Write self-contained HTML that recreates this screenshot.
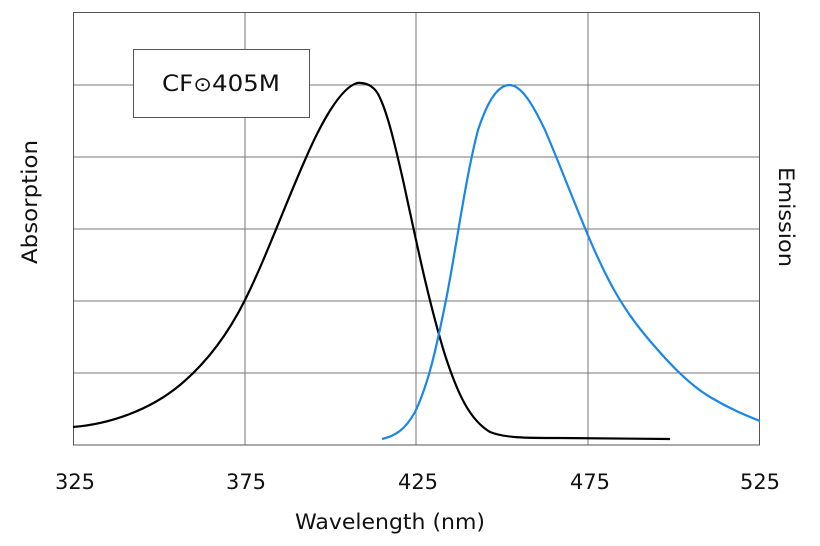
<!DOCTYPE html>
<html><head><meta charset="utf-8"><style>
html,body{margin:0;padding:0;background:#fff;}
svg{display:block;font-family:"DejaVu Sans","Liberation Sans",sans-serif;}
</style></head><body>
<svg width="820" height="546" viewBox="0 0 820 546">
<g stroke="#777" stroke-width="1" fill="none">
<line x1="73" y1="85" x2="760" y2="85"/>
<line x1="73" y1="157" x2="760" y2="157"/>
<line x1="73" y1="229" x2="760" y2="229"/>
<line x1="73" y1="301" x2="760" y2="301"/>
<line x1="73" y1="373" x2="760" y2="373"/>
<line x1="245" y1="12" x2="245" y2="445"/>
<line x1="416" y1="12" x2="416" y2="445"/>
<line x1="588" y1="12" x2="588" y2="445"/>
<rect x="73.5" y="12.5" width="686" height="432.5" stroke="#555"/>
</g>
<rect x="133.5" y="49.5" width="176" height="68" fill="#fff" stroke="#555"/>
<text x="221" y="91" font-size="22" text-anchor="middle" fill="#111" textLength="118" lengthAdjust="spacingAndGlyphs">CF<tspan font-size="20">⊙</tspan>405M</text>
<path d="M73,427 C110,424 150,410 180,385 C210,360 230,330 245,300 C265,260 285,205 305,160 C320,125 340,88 357,83 C368,82 376,88 380,98 C388,115 395,145 403,180 C415,235 428,300 445,355 C458,395 470,420 490,432 C505,438 525,438 560,438 L670,439" fill="none" stroke="#000" stroke-width="2.2"/>
<path d="M382,439 C395,436 405,430 415,412 C428,385 436,350 446,300 C456,250 465,180 478,130 C488,100 498,85 510,85 C522,86 533,105 545,130 C560,165 575,205 590,240 C605,275 620,305 645,335 C670,365 690,385 710,397 C730,409 745,415 760,421" fill="none" stroke="#1a86e8" stroke-width="2.2"/>
<g font-size="21" fill="#111" text-anchor="middle">
<text x="75" y="489" textLength="40" lengthAdjust="spacingAndGlyphs">325</text>
<text x="246" y="489" textLength="40" lengthAdjust="spacingAndGlyphs">375</text>
<text x="418" y="489" textLength="40" lengthAdjust="spacingAndGlyphs">425</text>
<text x="590" y="489" textLength="40" lengthAdjust="spacingAndGlyphs">475</text>
<text x="760" y="489" textLength="40" lengthAdjust="spacingAndGlyphs">525</text>
<text x="390" y="529" font-size="21" textLength="190" lengthAdjust="spacingAndGlyphs">Wavelength (nm)</text>
<text transform="translate(37,202) rotate(-90)" font-size="21" textLength="124" lengthAdjust="spacingAndGlyphs">Absorption</text>
<text transform="translate(779,217) rotate(90)" font-size="21" textLength="100" lengthAdjust="spacingAndGlyphs">Emission</text>
</g>
</svg>
</body></html>
